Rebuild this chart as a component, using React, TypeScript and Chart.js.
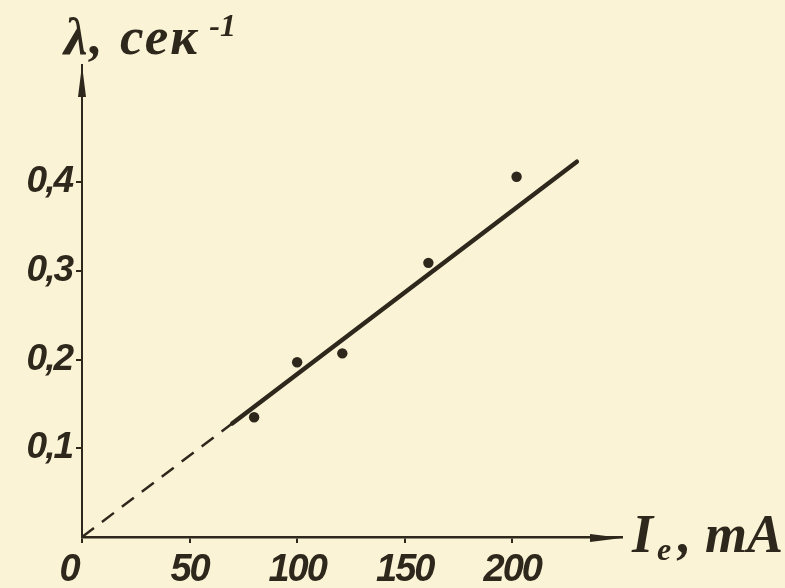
import React, { useEffect, useRef } from "react";
import { Chart, registerables } from "chart.js";

Chart.register(...registerables);

// Measured points: electron current (mA) vs λ (1/s)
const currentMA = [80, 100, 121, 161, 202];
const lambdaPerSec = [0.135, 0.197, 0.207, 0.309, 0.406];

// Fitted straight line (solid part) and its dashed extrapolation to the origin
const fitX = [69.8, 230];
const fitY = [0.128, 0.423];
const extrapX = [0, 69.8];
const extrapY = [0, 0.128];

// Axis ticks
const xTickValues = [0, 50, 100, 150, 200];
const xTickLabels = ["0   ", "50", "100", "150", "200"];
const yTickValues = [0.1, 0.2, 0.3, 0.4];
const yTickLabels = ["0,1", "0,2", "0,3", "0,4"];

const yAxisTitle = "λ, сек";
const yAxisTitleSup = "-1";
const xAxisTitleMain = "I";
const xAxisTitleSub = "e";
const xAxisTitleUnit = ", mA";

const INK = "#2e271c";
const PAPER = "#faf3d6";
const TICK_FONT = "'Liberation Sans', Arimo, sans-serif";
const TITLE_FONT = "'Liberation Serif', 'DejaVu Serif', serif";

const arrowPlugin = {
  id: "arrowsAndTitles",
  beforeDraw(chart: any) {
    (chart.ctx as any).letterSpacing = "-2px";
  },
  beforeDatasetsDraw(chart: any) {
    (chart.ctx as any).letterSpacing = "0px";
  },
  afterDraw(chart: any) {
    const ctx = chart.ctx as CanvasRenderingContext2D;
    (ctx as any).letterSpacing = "0px";
    const xs = chart.scales.x;
    const ys = chart.scales.y;
    const ox = xs.getPixelForValue(0);
    const oy = ys.getPixelForValue(0);
    const top = chart.chartArea.top;
    const right = chart.chartArea.right;
    ctx.save();
    ctx.fillStyle = INK;
    // y arrow head
    ctx.beginPath();
    ctx.moveTo(ox, top);
    ctx.lineTo(ox + 4, top + 32);
    ctx.lineTo(ox - 4, top + 32);
    ctx.closePath();
    ctx.fill();
    // x arrow head
    ctx.beginPath();
    ctx.moveTo(right, oy + 1);
    ctx.lineTo(right - 32, oy + 5);
    ctx.lineTo(right - 32, oy - 3);
    ctx.closePath();
    ctx.fill();

    // y title
    ctx.textBaseline = "alphabetic";
    ctx.textAlign = "left";
    ctx.font = `italic bold 53px ${TITLE_FONT}`;
    (ctx as any).letterSpacing = "2px";
    ctx.fillText(yAxisTitle, 64, 54);
    const w = ctx.measureText(yAxisTitle).width;
    (ctx as any).letterSpacing = "0px";
    ctx.font = `italic bold 32px ${TITLE_FONT}`;
    ctx.fillText(yAxisTitleSup, 64 + w + 10, 36);

    // x title
    ctx.font = `italic bold 54px ${TITLE_FONT}`;
    ctx.fillText(xAxisTitleMain, 632, 552);
    ctx.font = `italic bold 32px ${TITLE_FONT}`;
    ctx.fillText(xAxisTitleSub, 657, 560);
    ctx.font = `italic bold 54px ${TITLE_FONT}`;
    ctx.fillText(xAxisTitleUnit, 678, 552);
    ctx.restore();
  },
};

export default function App() {
  const ref = useRef<HTMLCanvasElement | null>(null);

  useEffect(() => {
    document.body.style.margin = "0";
    const canvas = ref.current;
    if (!canvas) return;
    const chart = new Chart(canvas, {
      type: "scatter",
      data: {
        datasets: [
          {
            type: "line",
            data: extrapX.map((x, i) => ({ x, y: extrapY[i] })),
            borderColor: INK,
            borderWidth: 2.5,
            borderDash: [15, 10],
            pointRadius: 0,
            fill: false,
          },
          {
            type: "line",
            data: fitX.map((x, i) => ({ x, y: fitY[i] })),
            borderColor: INK,
            borderWidth: 4.5,
            borderCapStyle: "round",
            pointRadius: 0,
            fill: false,
          },
          {
            type: "scatter",
            data: currentMA.map((x, i) => ({ x, y: lambdaPerSec[i] })),
            backgroundColor: INK,
            borderColor: INK,
            pointRadius: 5.2,
            pointBorderWidth: 0,
          },
        ],
      } as any,
      options: {
        animation: false,
        responsive: false,
        maintainAspectRatio: false,
        layout: { padding: { top: 65, right: 163, left: 0, bottom: 0 } },
        plugins: {
          legend: { display: false },
          tooltip: { enabled: false },
          title: { display: false },
        },
        scales: {
          x: {
            type: "linear",
            min: 0,
            max: 251,
            border: { display: true, color: INK, width: 2.5 },
            grid: {
              display: true,
              drawOnChartArea: false,
              drawTicks: true,
              tickLength: 6,
              color: INK,
              lineWidth: 2,
            },
            afterFit(scale: any) {
              scale.height = 51;
            },
            afterBuildTicks(scale: any) {
              scale.ticks = xTickValues.map((v) => ({ value: v }));
            },
            ticks: {
              color: INK,
              padding: 5,
              maxRotation: 0,
              autoSkip: false,
              font: { family: TICK_FONT, size: 38, style: "italic", weight: "bold" },
              callback: (v: any) => {
                const i = xTickValues.indexOf(Number(v));
                return i >= 0 ? xTickLabels[i] : "";
              },
            },
          },
          y: {
            type: "linear",
            min: 0,
            max: 0.532,
            border: { display: true, color: INK, width: 2 },
            grid: {
              display: true,
              drawOnChartArea: false,
              drawTicks: true,
              tickLength: 6,
              color: INK,
              lineWidth: 2,
            },
            afterFit(scale: any) {
              scale.width = 82;
            },
            afterBuildTicks(scale: any) {
              scale.ticks = yTickValues.map((v) => ({ value: v }));
            },
            ticks: {
              color: INK,
              padding: 4,
              autoSkip: false,
              font: { family: TICK_FONT, size: 37, style: "italic", weight: "bold" },
              callback: (v: any) => {
                const i = yTickValues.findIndex((t) => Math.abs(t - Number(v)) < 1e-9);
                return i >= 0 ? yTickLabels[i] : "";
              },
            },
          },
        },
      } as any,
      plugins: [arrowPlugin],
    });
    return () => chart.destroy();
  }, []);

  return (
    <div style={{ position: "fixed", left: 0, top: 0, width: 785, height: 588, background: PAPER }}>
      <canvas ref={ref} width={785} height={588} />
    </div>
  );
}
